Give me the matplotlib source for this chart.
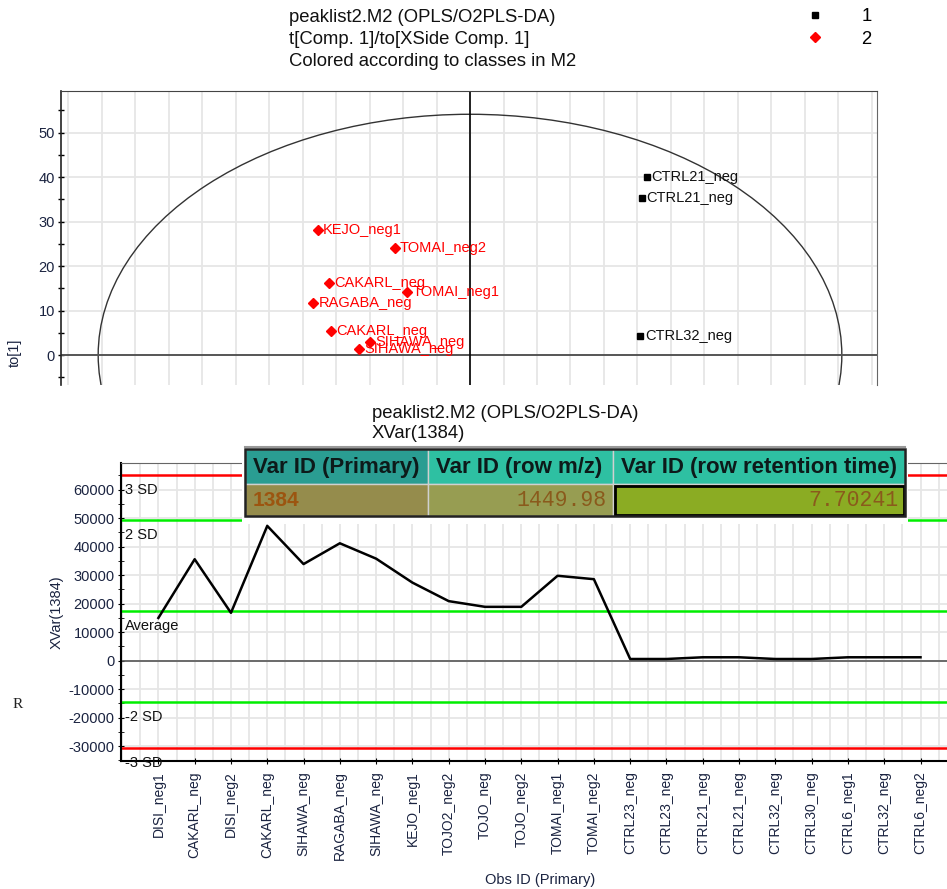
import numpy as np
import matplotlib.pyplot as plt
from matplotlib.patches import Ellipse, Rectangle
from matplotlib.ticker import MultipleLocator
from matplotlib.lines import Line2D

plt.rcParams['font.family'] = ['Liberation Sans', 'DejaVu Sans']
plt.rcParams['axes.unicode_minus'] = False

# score plot t[1] / to[1], class 2 (red) and class 1 (black)
cls2_names = ['KEJO_neg1', 'TOMAI_neg2', 'CAKARL_neg', 'TOMAI_neg1',
              'RAGABA_neg', 'CAKARL_neg', 'SIHAWA_neg', 'SIHAWA_neg']
cls2_t = [-9.1, -4.5, -8.4, -3.75, -9.35, -8.3, -5.95, -6.6]
cls2_to = [28.2, 24.0, 16.1, 14.2, 11.8, 5.5, 2.85, 1.3]
cls1_names = ['CTRL21_neg', 'CTRL21_neg', 'CTRL32_neg']
cls1_t = [10.55, 10.25, 10.15]
cls1_to = [39.9, 35.2, 4.2]
ell_t = 22.2
ell_to = 54.1

# XVar(1384) per observation
obs_ids = ['DISI_neg1', 'CAKARL_neg', 'DISI_neg2', 'CAKARL_neg', 'SIHAWA_neg',
           'RAGABA_neg', 'SIHAWA_neg', 'KEJO_neg1', 'TOJO2_neg2', 'TOJO_neg',
           'TOJO_neg2', 'TOMAI_neg1', 'TOMAI_neg2', 'CTRL23_neg', 'CTRL23_neg',
           'CTRL21_neg', 'CTRL21_neg', 'CTRL32_neg', 'CTRL30_neg', 'CTRL6_neg1',
           'CTRL32_neg', 'CTRL6_neg2']
xvar = [15000, 35600, 16800, 47300, 33900, 41200, 35800, 27400, 20900, 18900,
        18900, 29800, 28600, 600, 600, 1200, 1200, 600, 600, 1200, 1200, 1200]
avg = 17300
sd = 15950

# table contents
tbl_head = ['Var ID (Primary)', 'Var ID (row m/z)', 'Var ID (row retention time)']
tbl_vals = ['1384', '1449.98', '7.70241']

W, H = 947, 889
fig = plt.figure(figsize=(W / 100, H / 100), dpi=100)
tc = '#1a2340'
grid_c = '#e6e6e6'

# ---------- top: score plot ----------
ax1 = fig.add_axes([61 / W, 1 - 385 / H, (877 - 61) / W, (385 - 91) / H])
ax1.set_xlim(-24.42, 24.3)
ax1.set_ylim(-6.74, 59.33)
ax1.xaxis.set_major_locator(MultipleLocator(2))
ax1.yaxis.set_major_locator(MultipleLocator(10))
ax1.yaxis.set_minor_locator(MultipleLocator(5))
ax1.grid(True, which='major', color=grid_c, lw=1.3, zorder=0)
ax1.set_axisbelow(True)
ax1.tick_params(axis='x', length=0, labelbottom=False)
ax1.tick_params(axis='y', which='both', direction='inout', length=5, width=1,
                labelsize=10.5, labelcolor=tc, pad=2)
ax1.spines['bottom'].set_visible(False)
ax1.spines['left'].set_color('#222')
ax1.spines['left'].set_linewidth(1.2)
ax1.spines['top'].set_color('#444')
ax1.spines['right'].set_color('#666')
ax1.axhline(0, color='#555', lw=1.4)
ax1.axvline(0, color='black', lw=1.2)
ax1.add_patch(Ellipse((0, 0), 2 * ell_t, 2 * ell_to, fill=False,
                      ec='#333', lw=1))
ax1.plot(cls2_t, cls2_to, ls='none', marker='D', ms=5, color='#ff0000', zorder=3)
ax1.plot(cls1_t, cls1_to, ls='none', marker='s', ms=4.5, color='black', zorder=3)
for n, x, y in zip(cls2_names, cls2_t, cls2_to):
    ax1.annotate(n, (x, y), xytext=(5, 0), textcoords='offset pixels',
                 va='center', ha='left', fontsize=10.5, color='#ff0000')
for n, x, y in zip(cls1_names, cls1_t, cls1_to):
    ax1.annotate(n, (x, y), xytext=(5, 0), textcoords='offset pixels',
                 va='center', ha='left', fontsize=10.5, color='#111')

# ---------- bottom: line plot ----------
ax2 = fig.add_axes([121 / W, 1 - 761 / H, (947 - 121) / W, (761 - 462.7) / H])
xs = np.arange(len(obs_ids))
ax2.set_xlim(-1.03, 21.73)
ax2.set_ylim(-35190, 69470)
ax2.set_xticks(xs)
ax2.set_xticklabels(obs_ids, rotation=90, fontsize=10, color=tc)
ax2.xaxis.set_minor_locator(MultipleLocator(0.5))
ax2.yaxis.set_major_locator(MultipleLocator(10000))
ax2.yaxis.set_minor_locator(MultipleLocator(5000))
ax2.grid(True, axis='x', which='both', color=grid_c, lw=1.3)
ax2.grid(True, axis='y', which='major', color=grid_c, lw=1.3)
ax2.set_axisbelow(True)
ax2.tick_params(axis='x', which='major', direction='inout', length=5, pad=5)
ax2.tick_params(axis='x', which='minor', length=0)
ax2.tick_params(axis='y', which='both', direction='inout', length=5,
                labelsize=10.5, labelcolor=tc, pad=2)
ax2.spines['right'].set_visible(False)
ax2.spines['top'].set_color('#666')
ax2.spines['left'].set_linewidth(1.5)
ax2.spines['bottom'].set_linewidth(1.5)
ax2.axhline(0, color='#555', lw=1.2)
sd_lines = [(3, 'red', '3 SD'), (2, '#00ee00', '2 SD'), (0, '#00ee00', 'Average'),
            (-2, '#00ee00', '-2 SD'), (-3, 'red', '-3 SD')]
for k, c, lab in sd_lines:
    v = avg + k * sd
    ax2.axhline(v, color=c, lw=1.8)
    ax2.annotate(lab, xy=(0, v), xycoords=ax2.get_yaxis_transform(),
                 xytext=(4, -15), textcoords='offset pixels', va='center',
                 ha='left', fontsize=10.5, color='#111')
ax2.plot(xs, xvar, color='black', lw=1.8)

# ---------- overlay: titles, table, free text ----------
ov = fig.add_axes([0, 0, 1, 1])
ov.set_xlim(0, W)
ov.set_ylim(H, 0)
ov.axis('off')

for i, t in enumerate(['peaklist2.M2 (OPLS/O2PLS-DA)', 't[Comp. 1]/to[XSide Comp. 1]',
                       'Colored according to classes in M2']):
    ov.text(289, 17 + 22 * i, t, fontsize=13.3, va='center', ha='left', color='#111')
for i, t in enumerate(['peaklist2.M2 (OPLS/O2PLS-DA)', 'XVar(1384)']):
    ov.text(372, 413 + 21 * i, t, fontsize=13.3, va='center', ha='left', color='#111')

ax1.legend(handles=[Line2D([], [], ls='none', marker='s', ms=4.5, color='black'),
                    Line2D([], [], ls='none', marker='D', ms=5, color='#ff0000')],
           labels=['1', '2'], loc='upper left', bbox_to_anchor=(806 / W, 1 - 8 / H),
           bbox_transform=fig.transFigure, frameon=False, fontsize=13.3,
           handlelength=1, handletextpad=2.0, labelspacing=0.3, borderpad=0,
           borderaxespad=0)

ov.text(15, 353, 'to[1]', rotation=90, fontsize=10.5, va='center', ha='center', color=tc)
ov.text(57, 612, 'XVar(1384)', rotation=90, fontsize=10.5, va='center', ha='center', color=tc)
ov.text(485, 880, 'Obs ID (Primary)', fontsize=10.5, va='center', ha='left', color=tc)
ov.text(18, 705, 'R', fontsize=11, family='Liberation Serif', va='center', ha='center', color='#222')

# table
ov.add_patch(Rectangle((242, 445), 666, 79, fc='white', ec='none'))
col_x = [245, 428, 613, 905]
head_c = ['#2a9d92', '#2ec0a2', '#2ec0a2']
val_c = ['#958c4c', '#979d52', '#8bac23']
for i in range(3):
    w = col_x[i + 1] - col_x[i]
    ov.add_patch(Rectangle((col_x[i], 449), w, 35, fc=head_c[i], ec='#d0d0d0', lw=1))
    ov.add_patch(Rectangle((col_x[i], 484), w, 32, fc=val_c[i], ec='#d0d0d0', lw=1))
    ov.text(col_x[i] + 8, 467, tbl_head[i], fontsize=16, fontweight='bold',
            va='center', ha='left', color='#0d1a1a')
ov.add_patch(Rectangle((615, 486), 289, 29, fill=False, ec='black', lw=2))
ov.add_patch(Rectangle((245, 449), 660, 67, fill=False, ec='#222', lw=1.8))
ov.plot([245, 905], [447, 447], color='#999', lw=1.5)
ov.text(253, 500, tbl_vals[0], fontsize=15, fontweight='bold', va='center',
        ha='left', color='#9c5510')
ov.text(607, 500, tbl_vals[1], fontsize=15.5, family='Liberation Mono', va='center',
        ha='right', color='#8a5a1c')
ov.text(899, 500, tbl_vals[2], fontsize=15.5, family='Liberation Mono', va='center',
        ha='right', color='#8a5a1c')

fig.savefig('out.png', dpi=100)
